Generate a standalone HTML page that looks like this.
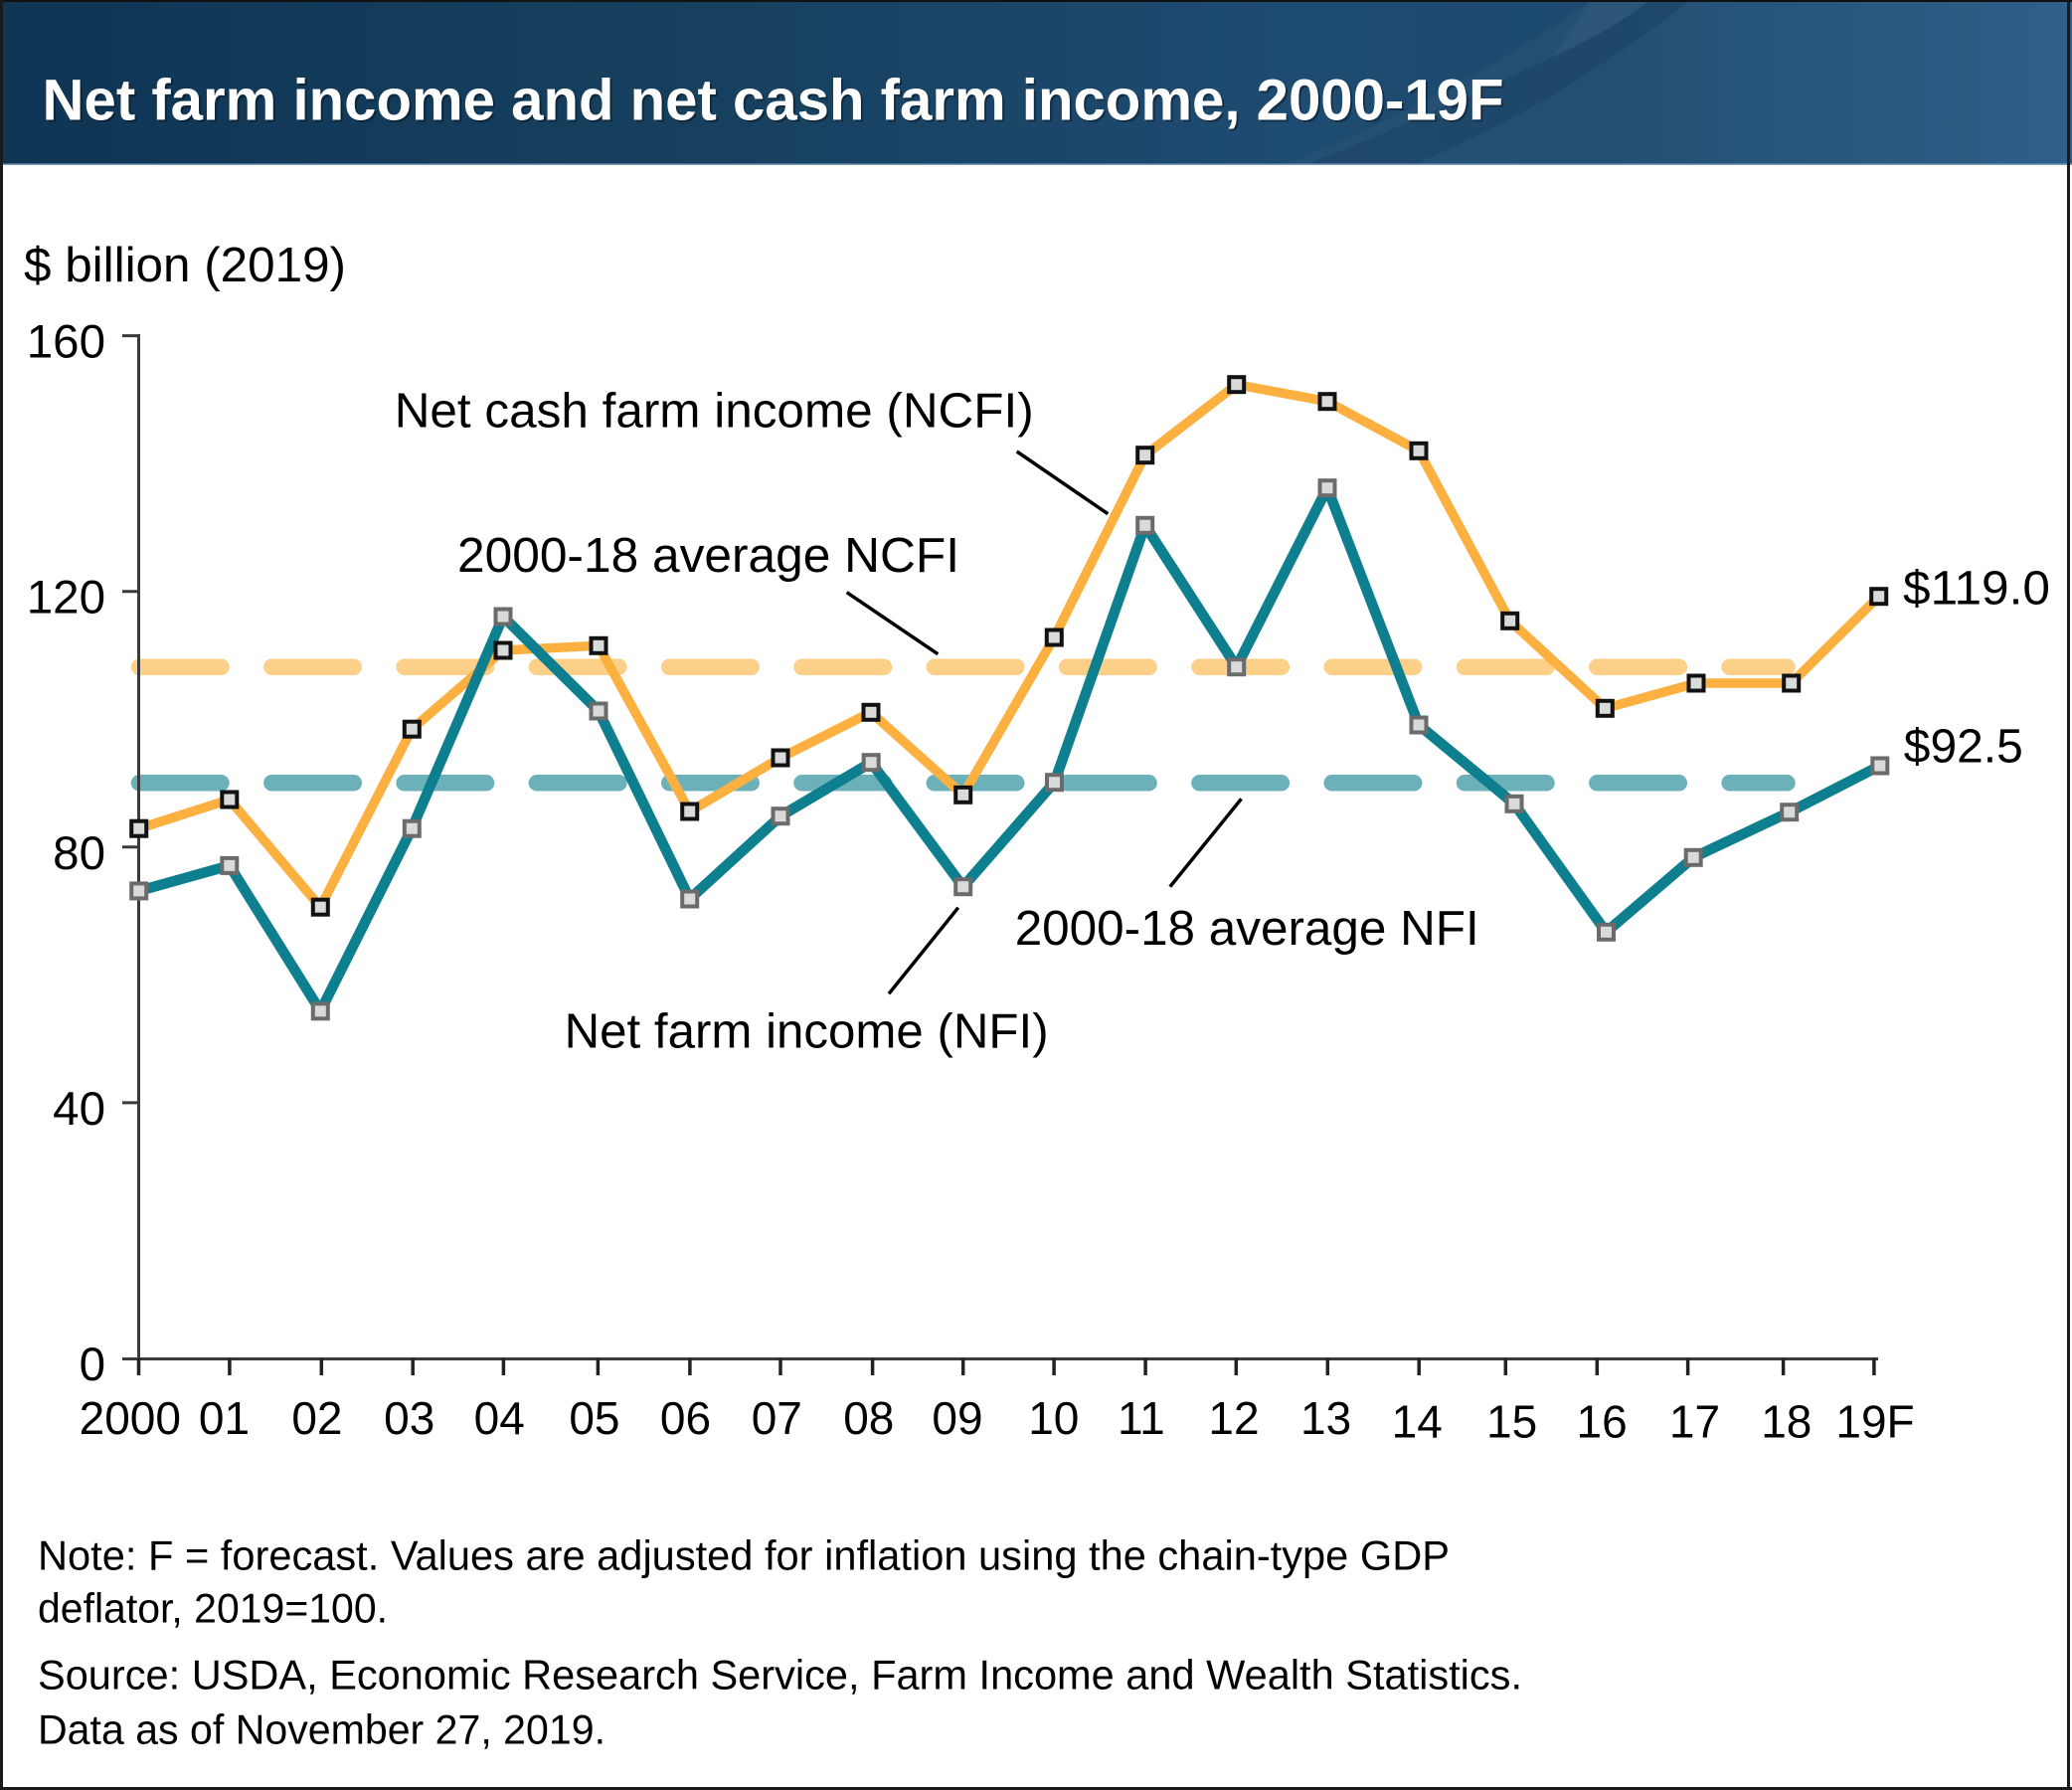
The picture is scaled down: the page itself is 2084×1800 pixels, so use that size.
<!DOCTYPE html>
<html>
<head>
<meta charset="utf-8">
<style>
  html,body{margin:0;padding:0;background:#fff;}
  body{width:2084px;height:1800px;overflow:hidden;}
  svg{display:block;}
  text{font-family:"Liberation Sans",Arial,Helvetica,sans-serif;fill:#000;}
</style>
</head>
<body>
<svg width="2084" height="1800" viewBox="0 0 2084 1800" xmlns="http://www.w3.org/2000/svg">
  <defs>
    <linearGradient id="hdr" x1="0" y1="0" x2="1" y2="0">
      <stop offset="0" stop-color="#0f3555"/>
      <stop offset="0.35" stop-color="#17405f"/>
      <stop offset="0.62" stop-color="#1e4b71"/>
      <stop offset="0.78" stop-color="#1d4a6e"/>
      <stop offset="1" stop-color="#285b87"/>
    </linearGradient>
  </defs>

  <!-- background -->
  <rect x="0" y="0" width="2084" height="1800" fill="#ffffff"/>

  <!-- header -->
  <rect x="0" y="0" width="2084" height="166" fill="url(#hdr)"/>
  <!-- swoosh -->
  <path d="M1291,166 Q1470,95 1600,0 L2084,0 L2084,166 Z" fill="#ffffff" opacity="0.03"/>
  <path d="M1313,166 Q1480,100 1625,25 L1660,0 L1700,0 Q1560,110 1420,166 Z" fill="#0a2a48" opacity="0.2"/>
  <path d="M1560,60 Q1620,30 1660,0 L1600,0 Q1580,30 1560,60 Z" fill="#ffffff" opacity="0.04"/>
  <rect x="0" y="164.5" width="2084" height="1.5" fill="#7d9cb8"/>
  <text x="44.5" y="122.7" font-size="58.2" font-weight="bold" fill="#000" opacity="0.35" textLength="1470" lengthAdjust="spacingAndGlyphs">Net farm income and net cash farm income, 2000-19F</text>
  <text x="42.5" y="120.7" font-size="58.2" font-weight="bold" style="fill:#ffffff" textLength="1470" lengthAdjust="spacingAndGlyphs">Net farm income and net cash farm income, 2000-19F</text>

  <!-- y-axis unit label -->
  <text x="24" y="283" font-size="49.5" textLength="324" lengthAdjust="spacingAndGlyphs">$ billion (2019)</text>

  <!-- y tick labels -->
  <g font-size="47.5" text-anchor="end">
    <text x="106" y="359.6">160</text>
    <text x="106" y="616.7">120</text>
    <text x="106" y="873.8">80</text>
    <text x="106" y="1130.9">40</text>
    <text x="106" y="1388">0</text>
  </g>

  <!-- average dashed lines -->
  <path d="M140,670.7 L1797.5,670.7" stroke="#fdd08a" stroke-width="16.5" stroke-linecap="round" stroke-dasharray="82.5 50.8" fill="none"/>
  <path d="M140,787.3 L1797.5,787.3" stroke="#6cb1ba" stroke-width="16.5" stroke-linecap="round" stroke-dasharray="82.5 50.8" fill="none"/>

  <!-- axes -->
  <g stroke="#3a3a3a" stroke-width="3" fill="none">
    <line x1="139.5" y1="336" x2="139.5" y2="1367.5"/>
    <line x1="138" y1="1366.5" x2="1889" y2="1366.5"/>
    <line x1="123" y1="337.6" x2="139.5" y2="337.6"/>
    <line x1="123" y1="594.7" x2="139.5" y2="594.7"/>
    <line x1="123" y1="851.8" x2="139.5" y2="851.8"/>
    <line x1="123" y1="1108.9" x2="139.5" y2="1108.9"/>
    <line x1="123" y1="1366.5" x2="139.5" y2="1366.5"/>
  </g>
  <g stroke="#222" stroke-width="3.5">
    <line x1="139.5" y1="1366" x2="139.5" y2="1383"/>
    <line x1="230.9" y1="1366" x2="230.9" y2="1383"/>
    <line x1="323.3" y1="1366" x2="323.3" y2="1383"/>
    <line x1="415.2" y1="1366" x2="415.2" y2="1383"/>
    <line x1="506.4" y1="1366" x2="506.4" y2="1383"/>
    <line x1="601.4" y1="1366" x2="601.4" y2="1383"/>
    <line x1="693.9" y1="1366" x2="693.9" y2="1383"/>
    <line x1="785" y1="1366" x2="785" y2="1383"/>
    <line x1="877.6" y1="1366" x2="877.6" y2="1383"/>
    <line x1="968.7" y1="1366" x2="968.7" y2="1383"/>
    <line x1="1060.1" y1="1366" x2="1060.1" y2="1383"/>
    <line x1="1152.1" y1="1366" x2="1152.1" y2="1383"/>
    <line x1="1243.3" y1="1366" x2="1243.3" y2="1383"/>
    <line x1="1335.3" y1="1366" x2="1335.3" y2="1383"/>
    <line x1="1427.2" y1="1366" x2="1427.2" y2="1383"/>
    <line x1="1514.3" y1="1366" x2="1514.3" y2="1383"/>
    <line x1="1606.3" y1="1366" x2="1606.3" y2="1383"/>
    <line x1="1697.6" y1="1366" x2="1697.6" y2="1383"/>
    <line x1="1793.6" y1="1366" x2="1793.6" y2="1383"/>
    <line x1="1884.9" y1="1366" x2="1884.9" y2="1383"/>
  </g>

  <!-- x tick labels -->
  <g font-size="46" text-anchor="middle">
    <text x="130.8" y="1442">2000</text>
    <text x="225.5" y="1442">01</text>
    <text x="318.9" y="1442">02</text>
    <text x="411.7" y="1442">03</text>
    <text x="502.2" y="1442">04</text>
    <text x="597.9" y="1442">05</text>
    <text x="689.5" y="1442">06</text>
    <text x="781.3" y="1442">07</text>
    <text x="873.8" y="1442">08</text>
    <text x="963" y="1442">09</text>
    <text x="1059.8" y="1442">10</text>
    <text x="1147.9" y="1442">11</text>
    <text x="1241" y="1442">12</text>
    <text x="1333.6" y="1442">13</text>
    <text x="1425.2" y="1445.5">14</text>
    <text x="1520.6" y="1445.5">15</text>
    <text x="1611.1" y="1445.5">16</text>
    <text x="1704.5" y="1445.5">17</text>
    <text x="1796.8" y="1445.5">18</text>
    <text x="1886" y="1445.5">19F</text>
  </g>

  <!-- series lines -->
  <polyline fill="none" stroke="#fbb040" stroke-width="9.5" stroke-linejoin="round"
    points="139.7,833.2 230.8,804 322.3,912.2 414.3,733.2 506,654 602,649.3 693.7,816 785,762 876,716.3 968.7,799.3 1060.3,641 1151.7,457.7 1243.7,386.7 1335,403.7 1427,453.3 1518.7,624.3 1614.3,712.3 1706,687 1801.7,687 1889.7,599.7"/>
  <polyline fill="none" stroke="#0e7f8e" stroke-width="10.5" stroke-linejoin="round"
    points="139.7,895.9 230.8,870.4 322.3,1016.8 414.3,833.2 506,620 602,715 693.7,904 785,820.7 876.2,766.7 968.7,891.7 1060.5,786.7 1151.7,528.3 1243.7,670.7 1335,490.7 1427,729 1523,808.3 1615.5,937.3 1703.2,862.3 1799.7,816.7 1890.8,770"/>

  <!-- NCFI markers -->
  <g fill="#d9dada" stroke="#111" stroke-width="4">
    <rect x="132.2" y="825.7" width="15" height="15"/>
    <rect x="223.3" y="796.5" width="15" height="15"/>
    <rect x="314.8" y="904.7" width="15" height="15"/>
    <rect x="406.8" y="725.7" width="15" height="15"/>
    <rect x="498.5" y="646.5" width="15" height="15"/>
    <rect x="594.5" y="641.8" width="15" height="15"/>
    <rect x="686.2" y="808.5" width="15" height="15"/>
    <rect x="777.5" y="754.5" width="15" height="15"/>
    <rect x="868.5" y="708.8" width="15" height="15"/>
    <rect x="961.2" y="791.8" width="15" height="15"/>
    <rect x="1052.8" y="633.5" width="15" height="15"/>
    <rect x="1144.2" y="450.2" width="15" height="15"/>
    <rect x="1236.2" y="379.2" width="15" height="15"/>
    <rect x="1327.5" y="396.2" width="15" height="15"/>
    <rect x="1419.5" y="445.8" width="15" height="15"/>
    <rect x="1511.2" y="616.8" width="15" height="15"/>
    <rect x="1606.8" y="704.8" width="15" height="15"/>
    <rect x="1698.5" y="679.5" width="15" height="15"/>
    <rect x="1794.2" y="679.5" width="15" height="15"/>
    <rect x="1882.2" y="592.2" width="15" height="15"/>
  </g>

  <!-- NFI markers -->
  <g fill="#d9dada" stroke="#6b6b6b" stroke-width="4">
    <rect x="132.2" y="888.4" width="15" height="15"/>
    <rect x="223.3" y="862.9" width="15" height="15"/>
    <rect x="314.8" y="1009.3" width="15" height="15"/>
    <rect x="406.8" y="825.7" width="15" height="15"/>
    <rect x="498.5" y="612.5" width="15" height="15"/>
    <rect x="594.5" y="707.5" width="15" height="15"/>
    <rect x="686.2" y="896.5" width="15" height="15"/>
    <rect x="777.5" y="813.2" width="15" height="15"/>
    <rect x="868.7" y="759.2" width="15" height="15"/>
    <rect x="961.2" y="884.2" width="15" height="15"/>
    <rect x="1053" y="779.2" width="15" height="15"/>
    <rect x="1144.2" y="520.8" width="15" height="15"/>
    <rect x="1236.2" y="663.2" width="15" height="15"/>
    <rect x="1327.5" y="483.2" width="15" height="15"/>
    <rect x="1419.5" y="721.5" width="15" height="15"/>
    <rect x="1515.5" y="800.8" width="15" height="15"/>
    <rect x="1608" y="929.8" width="15" height="15"/>
    <rect x="1695.7" y="854.8" width="15" height="15"/>
    <rect x="1792.2" y="809.2" width="15" height="15"/>
    <rect x="1883.3" y="762.5" width="15" height="15"/>
  </g>

  <!-- leader lines -->
  <g stroke="#000" stroke-width="3.5">
    <line x1="1022.7" y1="454" x2="1114.3" y2="516.7"/>
    <line x1="851.7" y1="595.7" x2="943.3" y2="657.7"/>
    <line x1="1248.5" y1="803.3" x2="1176.8" y2="891.7"/>
    <line x1="963.8" y1="912.7" x2="894" y2="999.3"/>
  </g>

  <!-- annotations -->
  <g font-size="49.5">
    <text x="396.7" y="429.3" textLength="643" lengthAdjust="spacingAndGlyphs">Net cash farm income (NCFI)</text>
    <text x="460" y="575" textLength="505" lengthAdjust="spacingAndGlyphs">2000-18 average NCFI</text>
    <text x="1020.7" y="950" textLength="467" lengthAdjust="spacingAndGlyphs">2000-18 average NFI</text>
    <text x="567.6" y="1053.3" textLength="487" lengthAdjust="spacingAndGlyphs">Net farm income (NFI)</text>
  </g>
  <text x="1914" y="607.7" font-size="48.5" textLength="148" lengthAdjust="spacingAndGlyphs">$119.0</text>
  <text x="1914.8" y="766.7" font-size="48" textLength="120" lengthAdjust="spacingAndGlyphs">$92.5</text>

  <!-- notes -->
  <g font-size="41.5">
    <text x="38" y="1578.3" textLength="1420" lengthAdjust="spacingAndGlyphs">Note: F = forecast. Values are adjusted for inflation using the chain-type GDP</text>
    <text x="38" y="1631.7" textLength="352" lengthAdjust="spacingAndGlyphs">deflator, 2019=100.</text>
    <text x="38" y="1698.3" textLength="1493" lengthAdjust="spacingAndGlyphs">Source: USDA, Economic Research Service, Farm Income and Wealth Statistics.</text>
    <text x="38" y="1753.3" textLength="571" lengthAdjust="spacingAndGlyphs">Data as of November 27, 2019.</text>
  </g>

  <!-- frame -->
  <rect x="0" y="0" width="2084" height="2" fill="#111"/>
  <rect x="0" y="0" width="3" height="1800" fill="#1a1a1a"/>
  <rect x="2079" y="0" width="3" height="1800" fill="#1a1a1a"/>
  <rect x="0" y="1797" width="2084" height="3" fill="#1a1a1a"/>
</svg>
</body>
</html>
